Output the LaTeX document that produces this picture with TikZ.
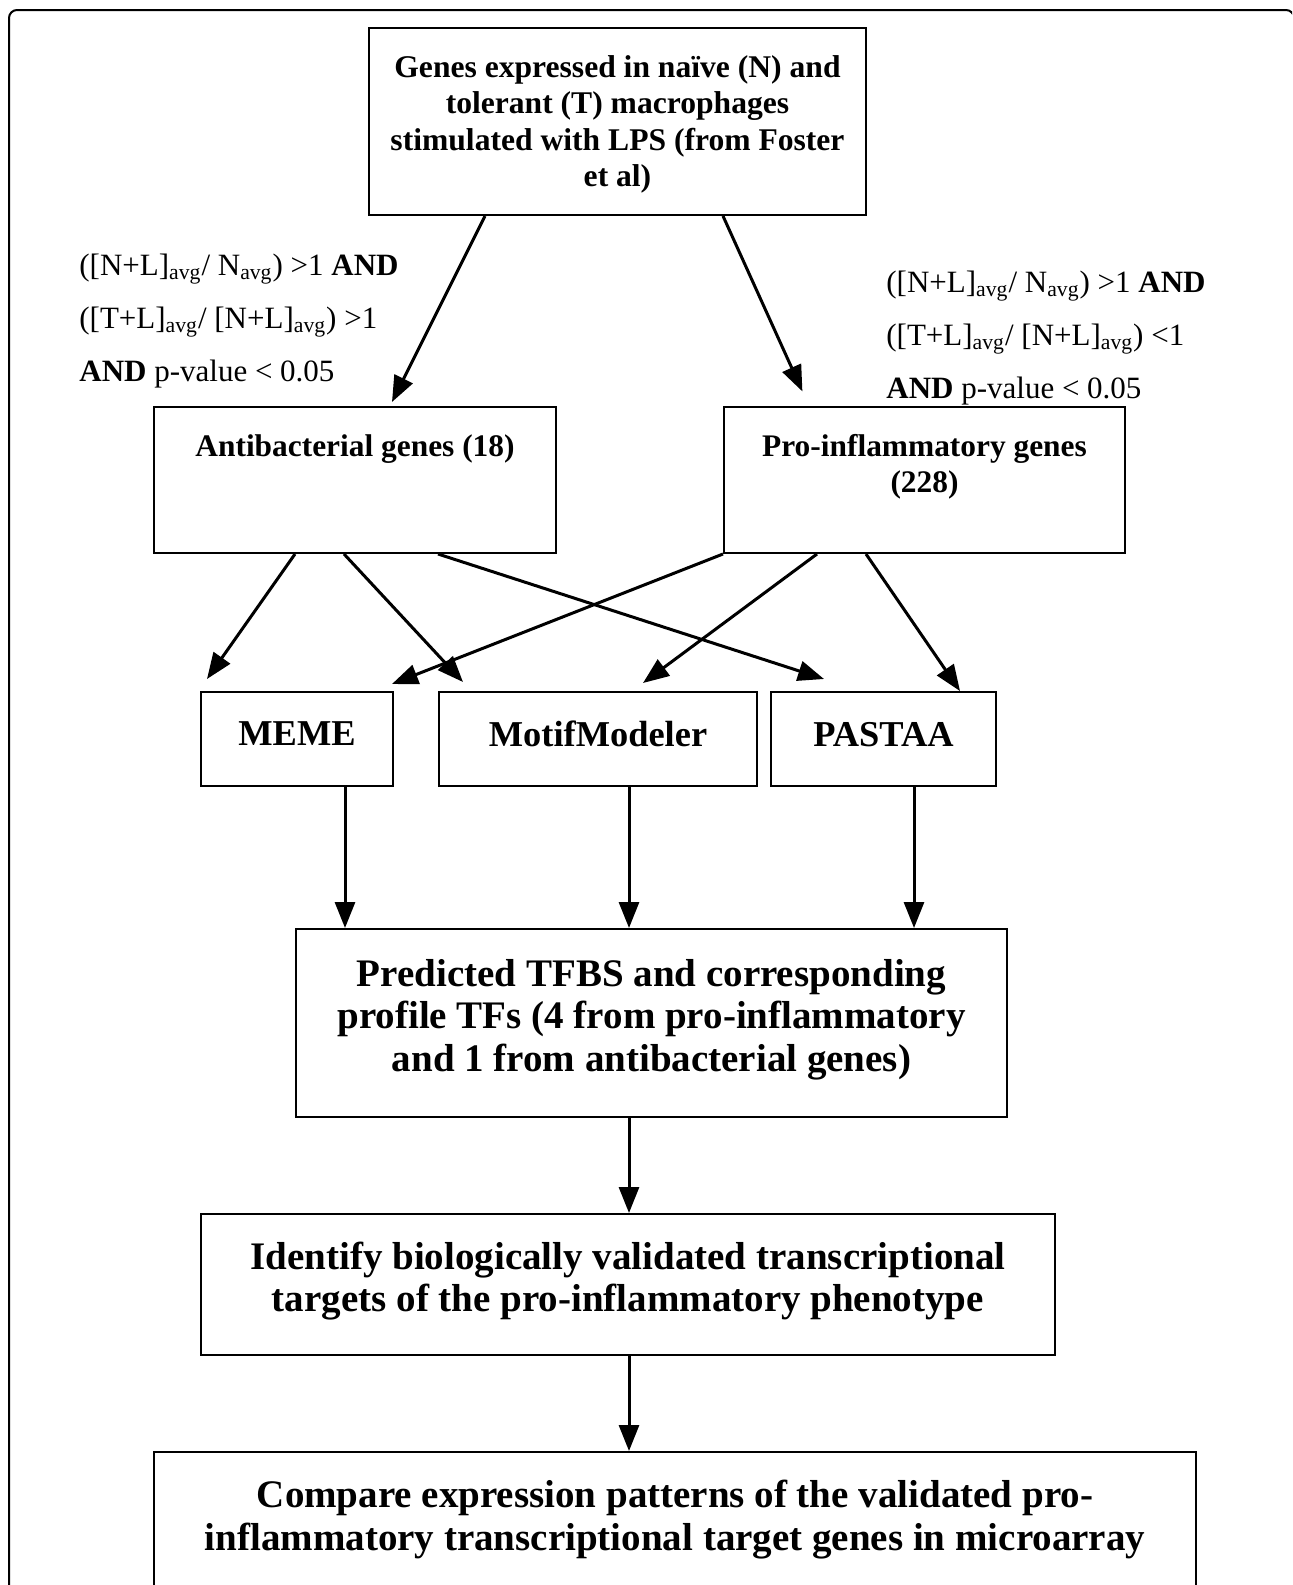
\documentclass[tikz,border=0pt]{standalone}
\usepackage{fontspec}
\setmainfont{Liberation Serif}
\usetikzlibrary{arrows.meta,positioning}

\begin{document}
\begin{tikzpicture}[x=0.5pt,y=-0.5pt,
    box/.style={draw, line width=1pt, inner sep=0pt, align=center},
    arr/.style={line width=1.5pt, -{Triangle[length=13pt,width=10pt]}},
    crit/.style={anchor=west, align=left, inner sep=0pt, font=\fontsize{15.5}{26.5}\selectfont},
    tool/.style={box, minimum height=47pt, text depth=5pt, font=\fontsize{18.2}{21}\selectfont\bfseries},
    grouptext/.style={align=center, font=\fontsize{15.7}{18}\selectfont\bfseries},
    stagetext/.style={align=center, font=\fontsize{19.5}{21.3}\selectfont\bfseries}]
    \useasboundingbox (0,0) rectangle (1292,1585);
    \clip (0,0) rectangle (1292,1585);
    \draw[line width=1pt, rounded corners=4pt] (9,1620) -- (9,10) -- (1294,10) -- (1294,1620);

    % input data
    \node[box, minimum width=248.5pt, minimum height=93.5pt] (genes) at (617.5,121.5) {};
    \node[align=center, font=\fontsize{15.8}{18.2}\selectfont\bfseries] (genesT) at ([yshift=-1.5pt]genes.center)
          {Genes expressed in naïve (N) and\\tolerant (T) macrophages\\stimulated with LPS (from Foster\\et al)};

    % filtering criteria
    \node[crit] (critA) at (79,321) {([N+L]\textsubscript{avg}/ N\textsubscript{avg}) >1 \textbf{AND}\\([T+L]\textsubscript{avg}/ [N+L]\textsubscript{avg}) >1\\\textbf{AND} p-value < 0.05};
    \node[crit] (critP) at (886,338) {([N+L]\textsubscript{avg}/ N\textsubscript{avg}) >1 \textbf{AND}\\([T+L]\textsubscript{avg}/ [N+L]\textsubscript{avg}) <1\\\textbf{AND} p-value < 0.05};

    % gene groups
    \node[box, minimum width=201pt, minimum height=73pt] (anti) at (355,480) {};
    \node[box, minimum width=200.5pt, minimum height=73pt] (pro) at (924.5,480) {};
    \node[grouptext] (antiT) at ([yshift=-21.5pt]anti.north) {Antibacterial genes (18)};
    \node[grouptext] (proT) at ([yshift=-30.5pt]pro.north) {Pro-inflammatory genes\\(228)};

    % motif tools
    \node[tool, minimum width=96pt] (meme) at (297,739) {MEME};
    \node[tool, minimum width=159pt] (motif) at (598,739) {MotifModeler};
    \node[tool, minimum width=112.5pt] (pastaa) at (883.5,739) {PASTAA};

    % later steps
    \node[box, minimum width=355.5pt, minimum height=94pt] (pred) at (651.5,1023) {};
    \node[box, minimum width=427pt, minimum height=70.5pt] (ident) at (628,1284.5) {};
    \node[box, minimum width=521pt, minimum height=74pt] (comp) at (675,1526) {};
    \node[stagetext] (predT) at ([yshift=1.75pt]pred.center)
          {Predicted TFBS and corresponding\\profile TFs (4 from pro-inflammatory\\and 1 from antibacterial genes)};
    \node[stagetext] (identT) at ([yshift=1.75pt]ident.center)
          {Identify biologically validated transcriptional\\targets of the pro-inflammatory phenotype};
    \node[stagetext] (compT) at ([yshift=3.25pt]comp.center)
          {Compare expression patterns of the validated pro-\\inflammatory transcriptional target genes in microarray};

    \draw[arr] ([xshift=-66.25pt]genes.south) -- ([xshift=18.5pt,yshift=2pt]anti.north);
    \draw[arr, shorten >=8pt] ([xshift=52.75pt]genes.south) -- ([xshift=-57.75pt]pro.north);

    \draw[arr] ([xshift=-30pt]anti.south) -- ([xshift=-45pt,yshift=6pt]meme.north);
    \draw[arr] ([xshift=-5.5pt]anti.south) -- ([xshift=-67.5pt,yshift=4.5pt]motif.north);
    \draw[arr] ([xshift=41.5pt]anti.south) -- ([xshift=-29.75pt,yshift=6pt]pastaa.north);
    \draw[arr] (pro.south west) -- ([xshift=47.5pt,yshift=3.5pt]meme.north);
    \draw[arr] ([xshift=-53.75pt]pro.south) -- ([xshift=22.5pt,yshift=4pt]motif.north);
    \draw[arr] ([xshift=-29.25pt]pro.south) -- ([xshift=38.25pt]pastaa.north);

    \draw[arr] ([xshift=24pt]meme.south) -- ([xshift=-153.25pt]pred.north);
    \draw[arr] ([xshift=15.5pt]motif.south) -- ([xshift=-11.25pt]pred.north);
    \draw[arr] ([xshift=15.25pt]pastaa.south) -- ([xshift=131.25pt]pred.north);
    \draw[arr] ([xshift=-11.25pt]pred.south) -- ([xshift=0.5pt]ident.north);
    \draw[arr] ([xshift=0.5pt]ident.south) -- ([xshift=-23pt]comp.north);
\end{tikzpicture}
\end{document}
